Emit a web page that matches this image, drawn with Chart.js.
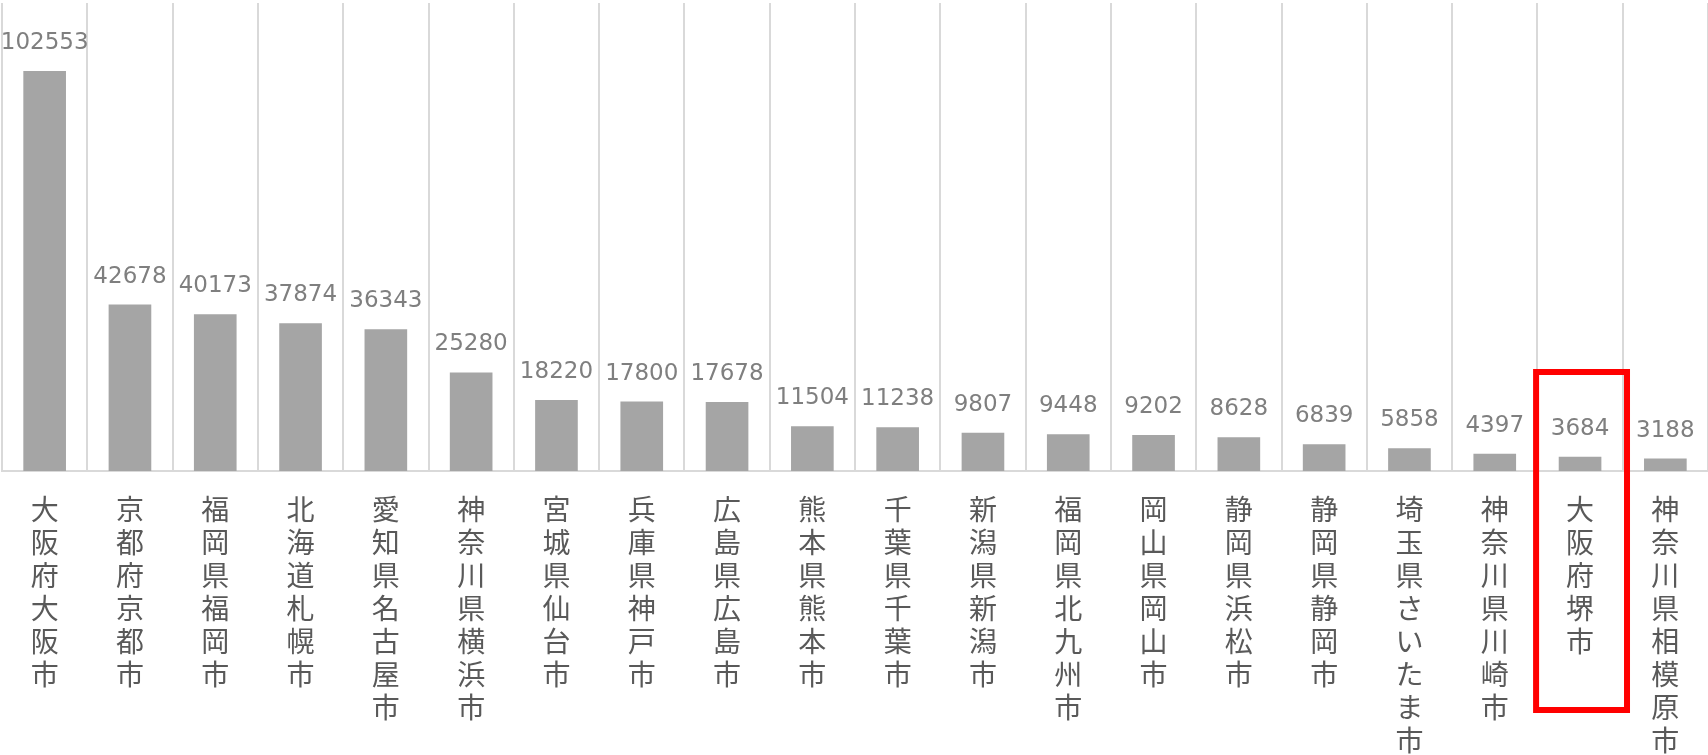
<!DOCTYPE html>
<html>
<head>
<meta charset="utf-8">
<script src="https://cdn.jsdelivr.net/npm/chart.js@4"></script>
<style>
  html, body { margin: 0; padding: 0; background: #fff; }
  #wrap { width: 1708px; height: 755px; }
</style>
</head>
<body>
<div id="wrap"><canvas id="chart"></canvas></div>
<script>
const cities = [
  '大阪府大阪市', '京都府京都市', '福岡県福岡市', '北海道札幌市', '愛知県名古屋市',
  '神奈川県横浜市', '宮城県仙台市', '兵庫県神戸市', '広島県広島市', '熊本県熊本市',
  '千葉県千葉市', '新潟県新潟市', '福岡県北九州市', '岡山県岡山市', '静岡県浜松市',
  '静岡県静岡市', '埼玉県さいたま市', '神奈川県川崎市', '大阪府堺市', '神奈川県相模原市'
];
const counts = [
  102553, 42678, 40173, 37874, 36343,
  25280, 18220, 17800, 17678, 11504,
  11238, 9807, 9448, 9202, 8628,
  6839, 5858, 4397, 3684, 3188
];
const highlightCity = '大阪府堺市';

// numbers above each bar
const valueLabels = {
  id: 'valueLabels',
  afterDatasetsDraw(chart) {
    const { ctx } = chart;
    const meta = chart.getDatasetMeta(0);
    ctx.save();
    ctx.font = '23px "DejaVu Sans"';
    ctx.fillStyle = '#7f7f7f';
    ctx.textAlign = 'center';
    ctx.textBaseline = 'alphabetic';
    meta.data.forEach((bar, i) => {
      ctx.fillText(String(chart.data.datasets[0].data[i]), bar.x, bar.y - 22);
    });
    ctx.restore();
  }
};

// red frame around one city
const highlightBox = {
  id: 'highlightBox',
  afterDraw(chart) {
    const { ctx, chartArea } = chart;
    const x = chart.scales.x;
    const idx = cities.indexOf(highlightCity);
    const cx = x.getPixelForValue(idx) + 1.5;
    const w = (x.getPixelForValue(1) - x.getPixelForValue(0)) * 1.066;
    ctx.save();
    ctx.strokeStyle = '#ff0000';
    ctx.lineWidth = 6;
    ctx.strokeRect(cx - w / 2, chartArea.bottom - 99, w, 338);
    ctx.restore();
  }
};

new Chart(document.getElementById('chart'), {
  type: 'bar',
  data: {
    labels: cities.map(c => Array.from(c)),
    datasets: [{
      data: counts,
      backgroundColor: '#a5a5a5',
      barPercentage: 0.5,
      categoryPercentage: 1
    }]
  },
  options: {
    responsive: true,
    maintainAspectRatio: false,
    animation: false,
    layout: { padding: { left: 2, right: 0, top: 3, bottom: 0 } },
    plugins: {
      legend: { display: false },
      tooltip: { enabled: false }
    },
    scales: {
      y: {
        display: false,
        min: 0,
        max: 120000
      },
      x: {
        afterFit(scale) { scale.height = 284; },
        grid: {
          color: '#d9d9d9',
          lineWidth: 2,
          drawTicks: false
        },
        border: { color: '#d9d9d9', width: 2 },
        ticks: {
          maxRotation: 0,
          autoSkip: false,
          padding: 22,
          color: '#595959',
          font: { family: '"Noto Sans CJK JP"', size: 28, lineHeight: 1.18 }
        }
      }
    }
  },
  plugins: [valueLabels, highlightBox]
});
</script>
</body>
</html>
